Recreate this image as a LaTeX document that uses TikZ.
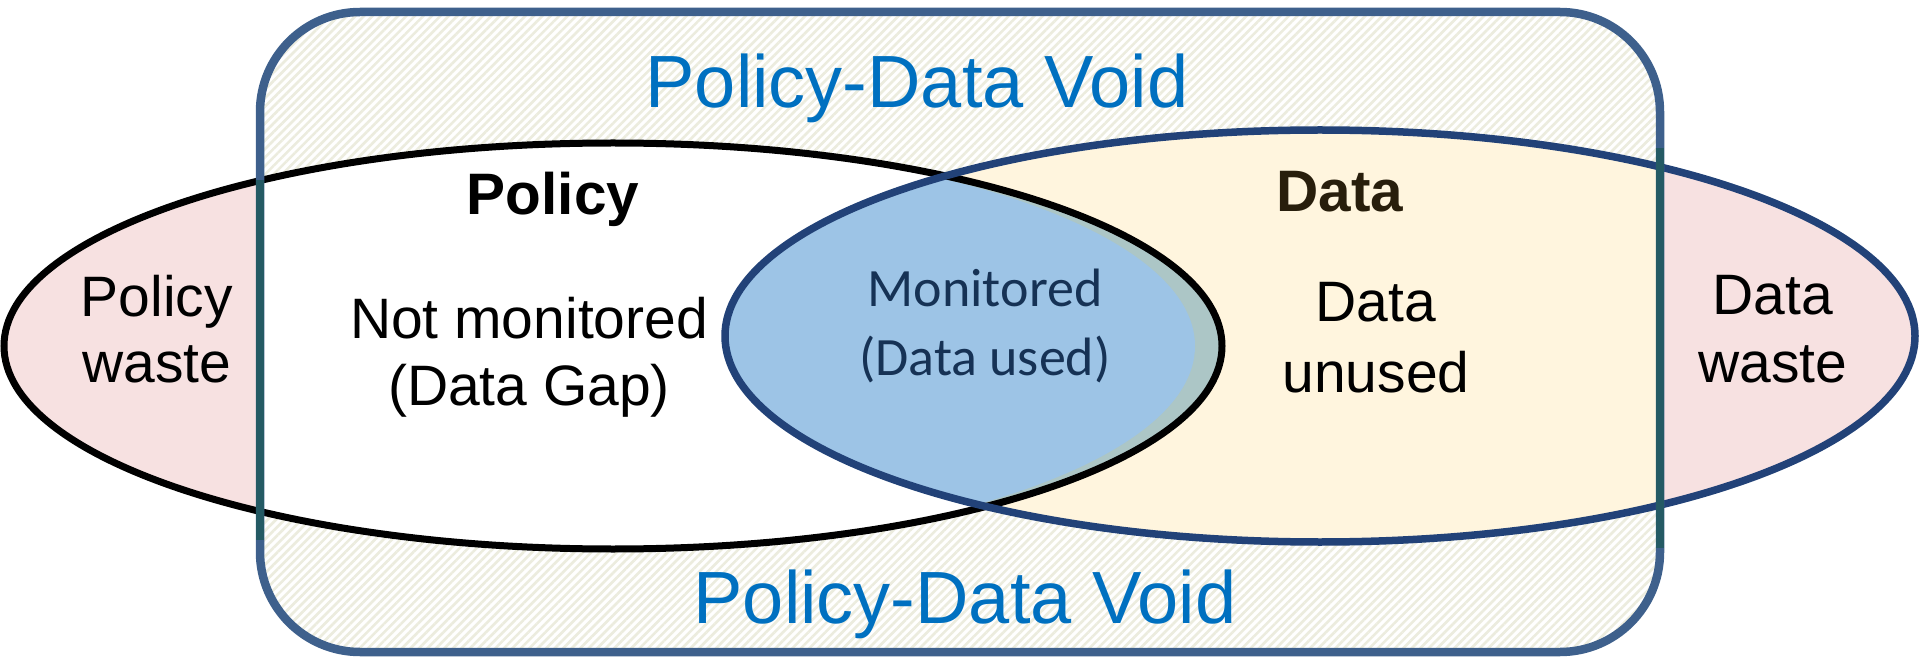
\documentclass[tikz,border=0pt]{standalone}
\usepackage{fontspec}
\setmainfont{Liberation Sans}
\newfontfamily\calibrifont{Carlito}
\usetikzlibrary{patterns.meta}
\definecolor{voidblue}{RGB}{0,112,192}
\definecolor{rectblue}{RGB}{62,96,140}
\definecolor{rectteal}{RGB}{36,90,100}
\definecolor{hatchcol}{RGB}{236,236,222}
\definecolor{wastepink}{RGB}{247,225,225}
\definecolor{datacream}{RGB}{255,245,222}
\definecolor{monblue}{RGB}{157,196,230}
\definecolor{monband}{RGB}{172,198,198}
\definecolor{datanavy}{RGB}{34,66,120}
\definecolor{montext}{RGB}{22,50,85}
\definecolor{databrown}{RGB}{40,30,12}
\begin{document}
\begin{tikzpicture}[x=1pt,y=-1pt,
  voidlabel/.style={text=voidblue,font=\fontsize{74}{80}\selectfont,anchor=base,inner sep=0pt},
  boldlabel/.style={font=\fontsize{58.5}{64}\selectfont\bfseries,anchor=base,inner sep=0pt},
  plainlabel/.style={font=\fontsize{57}{64}\selectfont,anchor=base,inner sep=0pt},
  monlabel/.style={text=montext,font=\calibrifont\fontsize{54}{60}\selectfont,anchor=base,inner sep=0pt},
  framebox/.style={rounded corners=100pt},
  edge/.style={line width=8.5pt}]
\useasboundingbox (0,0) rectangle (1920,660);

% void area with hatching
\fill[white,framebox] (260,12) rectangle (1660,652);
\fill[framebox,pattern={Lines[angle=45,distance=6pt,line width=2.6pt]},pattern color=hatchcol] (260,12) rectangle (1660,652);

% waste regions (outside the frame)
\fill[wastepink] (613,346) ellipse [x radius=609pt,y radius=203pt];
\fill[wastepink] (1320,336) ellipse [x radius=595pt,y radius=206pt];

% inside the frame
\begin{scope}
  \clip[framebox] (260,12) rectangle (1660,652);
  \fill[white] (613,346) ellipse [x radius=609pt,y radius=203pt];
  \fill[datacream] (1320,336) ellipse [x radius=595pt,y radius=206pt];
\end{scope}

% monitored overlap
\begin{scope}
  \clip (613,346) ellipse [x radius=609pt,y radius=203pt];
  \fill[monband] (1320,336) ellipse [x radius=595pt,y radius=206pt];
  \clip (613,346) ellipse [x radius=582pt,y radius=203pt];
  \fill[monblue] (1320,336) ellipse [x radius=595pt,y radius=206pt];
\end{scope}

% outlines
\draw[black,line width=7pt] (613,346) ellipse [x radius=609pt,y radius=203pt];
\draw[datanavy,line width=7.5pt] (1320,336) ellipse [x radius=595pt,y radius=206pt];

% frame border
\draw[rectblue,edge,framebox] (260,12) rectangle (1660,652);
\coordinate (lt) at (260,180);
\coordinate (lb) at (260,540);
\coordinate (rt) at (1660,148);
\coordinate (rb) at (1660,548);
\draw[rectteal,edge] (lt) -- (lb);
\draw[rectteal,edge] (rt) -- (rb);

% labels
\node[voidlabel] (voidtop) at (917,108) {Policy-Data Void};
\node[voidlabel] (voidbottom) at (965,623) {Policy-Data Void};
\node[boldlabel] (policytitle) at (553,215) {Policy};
\node[boldlabel,text=databrown] (datatitle) at (1340,212) {Data};
\node[plainlabel] (pw1) at (157,317) {Policy};
\node[plainlabel] (pw2) at (157,382) {waste};
\node[plainlabel] (nm1) at (529,338) {Not monitored};
\node[plainlabel] (nm2) at (529,405) {(Data Gap)};
\node[monlabel] (mo1) at (985,307) {Monitored};
\node[monlabel] (mo2) at (985,375) {(Data used)};
\node[plainlabel] (du1) at (1376,322) {Data};
\node[plainlabel] (du2) at (1376,392) {unused};
\node[plainlabel] (dw1) at (1773,315) {Data};
\node[plainlabel] (dw2) at (1773,382) {waste};
\end{tikzpicture}
\end{document}
